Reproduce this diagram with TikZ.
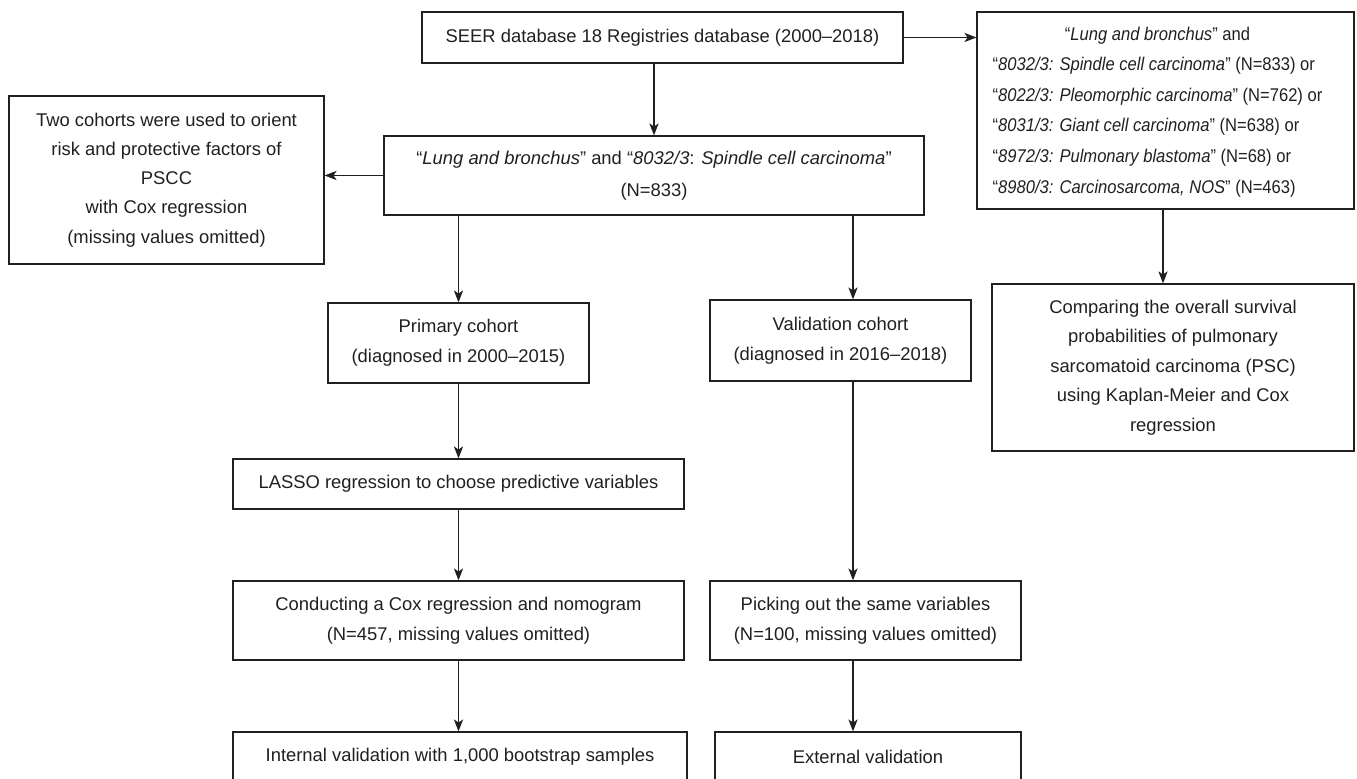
\documentclass[tikz,border=0pt]{standalone}
\usepackage{fontspec}
\setmainfont{Liberation Sans}
\newfontfamily\narrowsans[FakeStretch=0.9]{Liberation Sans}
\usetikzlibrary{arrows.meta}
\definecolor{ink}{HTML}{231F20}
\begin{document}
\begin{tikzpicture}[x=0.5pt,y=-0.5pt,
  box/.style={draw=ink, line width=0.6pt, text=ink, inner sep=0pt, align=center,
              font=\fontsize{9.2pt}{15pt}\selectfont},
  arr/.style={draw=ink, line width=0.6pt, -{Stealth[length=6pt,width=4.6pt,inset=1.6pt]}}]
\useasboundingbox (0,0) rectangle (1357,779);
\fill[white] (0,0) rectangle (1357,779);
\clip (0,0) rectangle (1357,779);

\node[box, minimum width=240.5pt, minimum height=25.5pt] (seer) at (662.5,37.5)
  {SEER database 18 Registries database (2000–2018)};

\node[box, minimum width=188.5pt, minimum height=98.5pt,
      font=\narrowsans\fontsize{9.2pt}{15.3pt}\selectfont] (r1) at (1165.5,110.5)
  {\hspace*{-8pt}\begin{tabular}{@{}l@{}}
   \multicolumn{1}{@{}c@{}}{“\textit{Lung and bronchus}” and}\\
   “\textit{8032/3: Spindle cell carcinoma}” (N=833) or\\
   “\textit{8022/3: Pleomorphic carcinoma}” (N=762) or\\
   “\textit{8031/3: Giant cell carcinoma}” (N=638) or\\
   “\textit{8972/3: Pulmonary blastoma}” (N=68) or\\
   “\textit{8980/3: Carcinosarcoma, NOS}” (N=463)
   \end{tabular}};

\node[box, minimum width=270pt, minimum height=39.5pt,
      font=\fontsize{9.2pt}{16pt}\selectfont] (main) at (654,175.5)
  {“\textit{Lung and bronchus}” and “\textit{8032/3}: \textit{Spindle cell carcinoma}”\\(N=833)};

\node[box, minimum width=157.5pt, minimum height=84pt,
      font=\fontsize{9.2pt}{14.6pt}\selectfont] (left) at (166.5,180)
  {Two cohorts were used to orient\\risk and protective factors of\\PSCC\\with Cox regression\\(missing values omitted)};

\node[box, minimum width=181pt, minimum height=83.5pt,
      font=\fontsize{9.2pt}{14.75pt}\selectfont] (r2) at (1173,367.5)
  {Comparing the overall survival\\probabilities of pulmonary\\sarcomatoid carcinoma (PSC)\\using Kaplan-Meier and Cox\\regression};

\node[box, minimum width=130.5pt, minimum height=40pt] (prim) at (458.5,343)
  {Primary cohort\\(diagnosed in 2000–2015)};

\node[box, minimum width=130.5pt, minimum height=40.5pt] (valid) at (840.5,340.5)
  {Validation cohort\\(diagnosed in 2016–2018)};

\node[box, minimum width=225.5pt, minimum height=25pt] (lasso) at (458.5,484)
  {LASSO regression to choose predictive variables};

\node[box, minimum width=225.5pt, minimum height=39.5pt] (cox) at (458.5,620.5)
  {Conducting a Cox regression and nomogram\\(N=457, missing values omitted)};

\node[box, minimum width=227pt, minimum height=25pt] (intern) at (460,757)
  {Internal validation with 1,000 bootstrap samples};

\node[box, minimum width=155.5pt, minimum height=39.5pt] (pick) at (865.5,620.5)
  {Picking out the same variables\\(N=100, missing values omitted)};

\node[box, minimum width=153pt, minimum height=25pt] (ext) at (868,757)
  {External validation};

\coordinate (cR) at (1163,0);
\coordinate (cV) at (853,0);

\draw[arr] (seer.east) -- (r1.west |- seer.east);
\draw[arr] (seer.south -| main.north) -- (main.north);
\draw[arr] (main.west) -- (left.east |- main.west);
\draw[arr] (r1.south -| cR) -- (r2.north -| cR);
\draw[arr] (main.south -| prim.north) -- (prim.north);
\draw[arr] (main.south -| cV) -- (valid.north -| cV);
\draw[arr] (prim.south) -- (lasso.north);
\draw[arr] (lasso.south) -- (cox.north);
\draw[arr] (cox.south) -- (intern.north -| cox.south);
\draw[arr] (valid.south -| cV) -- (pick.north -| cV);
\draw[arr] (pick.south -| cV) -- (ext.north -| cV);
\end{tikzpicture}
\end{document}
